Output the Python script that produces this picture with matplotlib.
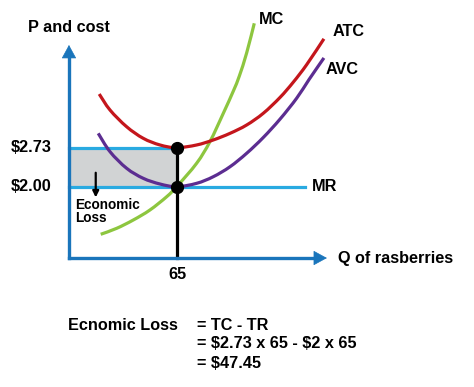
import matplotlib
matplotlib.use("Agg")
import matplotlib.pyplot as plt
from matplotlib.patches import Rectangle, PathPatch
from matplotlib.path import Path

plt.rcParams['font.family'] = ['Liberation Sans', 'DejaVu Sans']
plt.rcParams['font.weight'] = 'bold'

# ---- data (quantity Q, price P) ----
atc_q = [18.2, 24.7, 34.7, 44.7, 54.8, 64.8, 76.8, 86.8, 96.9, 106.9, 116.9, 127.0, 135.0, 143.0, 153.4]
atc_p = [3.726, 3.428, 3.117, 2.901, 2.777, 2.726, 2.777, 2.870, 2.994, 3.149, 3.367, 3.663, 3.948, 4.272, 4.754]

avc_q = [17.6, 24.7, 34.7, 44.7, 54.8, 64.8, 76.8, 86.8, 96.9, 106.9, 116.9, 127.0, 137.0, 144.4, 153.4]
avc_p = [2.994, 2.652, 2.343, 2.156, 2.050, 2.000, 2.063, 2.186, 2.372, 2.622, 2.916, 3.259, 3.648, 3.994, 4.398]

mc_q = [19.1, 28.7, 38.7, 48.7, 58.8, 64.8, 76.8, 84.8, 92.8, 98.9, 102.5, 106.9, 111.5]
mc_p = [1.114, 1.225, 1.380, 1.566, 1.814, 2.000, 2.436, 2.838, 3.363, 3.782, 4.061, 4.490, 5.043]

quantity = 65
price_mr = 2.00
atc_at_q = 2.73
mr_end_q = 142
axis_origin = (0, 0.672)
x_axis_end = 155.2
y_axis_end = 4.639

tick_price_labels = ["$2.73", "$2.00"]
tick_price_values = [atc_at_q, price_mr]
tick_q_label = "65"

# ---- colours ----
RED = "#c4161c"
PURPLE = "#5c2d91"
GREEN = "#8dc63f"
LBLUE = "#29aae1"
ABLUE = "#1a75bb"
GREY = "#d1d3d4"

W, H = 474, 387
fig = plt.figure(figsize=(W / 100, H / 100), dpi=100)
ax = fig.add_axes([0, 0, 1, 1])
ax.set_xlim(-41.5, 243.7)
ax.set_ylim(-1.730, 5.477)
ax.axis('off')


def smooth_curve(xs, ys, color, z):
    """Draw a smooth curve through the given points (Catmull-Rom as Bezier)."""
    pts = ax.transData.transform(list(zip(xs, ys)))
    verts = [tuple(pts[0])]
    codes = [Path.MOVETO]
    n = len(pts)
    for i in range(n - 1):
        p0 = pts[i - 1] if i > 0 else pts[i]
        p1 = pts[i]
        p2 = pts[i + 1]
        p3 = pts[i + 2] if i + 2 < n else pts[i + 1]
        c1 = p1 + (p2 - p0) / 6.0
        c2 = p2 - (p3 - p1) / 6.0
        verts += [tuple(c1), tuple(c2), tuple(p2)]
        codes += [Path.CURVE4] * 3
    verts = ax.transData.inverted().transform(verts)
    patch = PathPatch(Path(verts, codes), facecolor='none', edgecolor=color,
                      lw=2.3, zorder=z, capstyle='butt')
    ax.add_patch(patch)


# shaded loss rectangle
ax.add_patch(Rectangle((0, price_mr), quantity, atc_at_q - price_mr,
                       facecolor=GREY, edgecolor='none', zorder=1))

# horizontal price lines
ax.plot([0, quantity], [atc_at_q, atc_at_q], color=LBLUE, lw=2.3, zorder=2)
ax.plot([0, mr_end_q], [price_mr, price_mr], color=LBLUE, lw=2.3, zorder=2)

# vertical line at Q
ax.plot([quantity, quantity], [axis_origin[1], atc_at_q], color='black', lw=2.3, zorder=5)

# curves
smooth_curve(mc_q, mc_p, GREEN, 3)
smooth_curve(avc_q, avc_p, PURPLE, 4)
smooth_curve(atc_q, atc_p, RED, 4)

# dots
ax.plot([quantity, quantity], [atc_at_q, price_mr], 'o', color='black', ms=8.5, zorder=6)

# axes with arrows
ox, oy = axis_origin
ax.plot([ox, x_axis_end - 5], [oy, oy], color=ABLUE, lw=2.4, zorder=7,
        solid_capstyle='projecting')
ax.plot([ox, ox], [oy, y_axis_end - 0.15], color=ABLUE, lw=2.4, zorder=7,
        solid_capstyle='projecting')
ax.annotate('', xy=(x_axis_end, oy), xytext=(x_axis_end - 8, oy),
            arrowprops=dict(arrowstyle='-|>,head_length=0.55,head_width=0.3',
                            lw=0.5, color=ABLUE, mutation_scale=16,
                            shrinkA=0, shrinkB=0), zorder=7)
ax.annotate('', xy=(ox, y_axis_end), xytext=(ox, y_axis_end - 0.25),
            arrowprops=dict(arrowstyle='-|>,head_length=0.55,head_width=0.3',
                            lw=0.5, color=ABLUE, mutation_scale=16,
                            shrinkA=0, shrinkB=0), zorder=7)

# labels
fs = 11.7
def px(x, y):
    return x / W, 1 - y / H

kw = dict(fontsize=fs, parse_math=False)
fig.text(*px(28, 28), "P and cost", ha='left', va='center', **kw)
for lab, val in zip(tick_price_labels, tick_price_values):
    ax.text(-10.5, val, lab, ha='right', va='center', **kw)
ax.text(quantity, 0.356, tick_q_label, ha='center', va='center', **kw)
fig.text(*px(338, 258), "Q of rasberries", ha='left', va='center', **kw)

fig.text(*px(259, 19), "MC", ha='left', va='center', **kw)
fig.text(*px(333, 31), "ATC", ha='left', va='center', **kw)
fig.text(*px(326, 69), "AVC", ha='left', va='center', **kw)
ax.text(mr_end_q + 4.3, price_mr, "MR", ha='left', va='center', **kw)

# economic loss note
ax.annotate('', xy=(16.1, 1.80), xytext=(16.1, 2.26),
            arrowprops=dict(arrowstyle='-|>', lw=1.6, color='black',
                            mutation_scale=9, shrinkA=0, shrinkB=0))
fig.text(*px(75, 198), "Economic\nLoss", fontsize=9.8, ha='left', va='top',
         linespacing=0.95, parse_math=False)

# bottom formula
fig.text(*px(68, 326), "Ecnomic Loss", ha='left', va='center', **kw)
fig.text(*px(197, 326), "= TC - TR", ha='left', va='center', **kw)
fig.text(*px(197, 344), "= $2.73 x 65 - $2 x 65", ha='left', va='center', **kw)
fig.text(*px(197, 363), "= $47.45", ha='left', va='center', **kw)

fig.savefig("out.png", dpi=100)
